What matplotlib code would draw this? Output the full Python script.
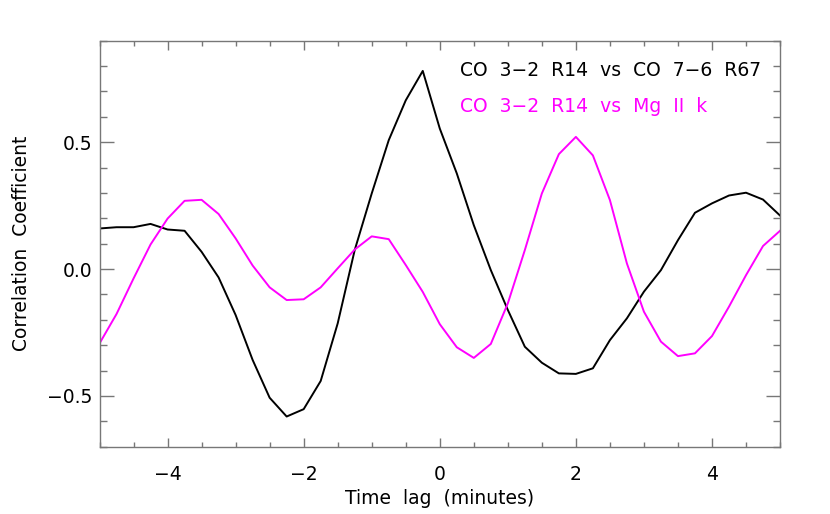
import matplotlib
matplotlib.use('Agg')
import matplotlib.pyplot as plt
import numpy as np
from matplotlib.ticker import MultipleLocator

plt.rcParams['font.family'] = 'DejaVu Sans'
plt.rcParams['font.size'] = 13.5

# 時間ラグ (0.25分刻み)
lag = np.arange(-5.0, 5.01, 0.25)

# CO 3-2 R14 vs CO 7-6 R67
co_co = [0.160, 0.165, 0.165, 0.178, 0.156, 0.151, 0.068, -0.033, -0.181, -0.358,
         -0.507, -0.581, -0.552, -0.441, -0.214, 0.075, 0.298, 0.508, 0.665, 0.781,
         0.554, 0.377, 0.173, -0.004, -0.161, -0.306, -0.369, -0.411, -0.413, -0.391,
         -0.280, -0.194, -0.089, -0.004, 0.114, 0.222, 0.259, 0.290, 0.301, 0.274,
         0.211]

# CO 3-2 R14 vs Mg II k
co_mg = [-0.293, -0.177, -0.037, 0.097, 0.199, 0.269, 0.273, 0.217, 0.121, 0.014,
         -0.072, -0.122, -0.119, -0.072, 0.003, 0.077, 0.129, 0.118, 0.016, -0.090,
         -0.217, -0.308, -0.350, -0.295, -0.135, 0.075, 0.298, 0.453, 0.521, 0.448,
         0.272, 0.022, -0.168, -0.286, -0.343, -0.332, -0.264, -0.148, -0.024, 0.091,
         0.151]

label_black = 'CO  3\u22122  R14  vs  CO  7\u22126  R67'
label_magenta = 'CO  3\u22122  R14  vs  Mg  II  k'

fig = plt.figure(figsize=(8.3, 5.14), dpi=100)
ax = fig.add_axes([0.1199, 0.1309, 0.8199, 0.7899])

ax.plot(lag, co_co, color='black', lw=1.4)
ax.plot(lag, co_mg, color='#ff00ff', lw=1.4)

ax.set_xlim(-5, 5)
ax.set_ylim(-0.7, 0.9)
ax.xaxis.set_major_locator(MultipleLocator(2))
ax.xaxis.set_minor_locator(MultipleLocator(0.5))
ax.yaxis.set_major_locator(MultipleLocator(0.5))
ax.yaxis.set_minor_locator(MultipleLocator(0.1))

fc = '#777777'
for s in ax.spines.values():
    s.set_color(fc)
    s.set_linewidth(1.0)
ax.tick_params(axis='x', which='major', direction='in', top=True, bottom=True,
               length=6.5, width=1, color=fc, pad=13)
ax.tick_params(axis='x', which='minor', direction='in', top=True, bottom=True,
               length=3.3, width=1, color=fc)
ax.tick_params(axis='y', which='major', direction='in', left=True, right=True,
               length=10, width=1, color=fc, pad=5)
ax.tick_params(axis='y', which='minor', direction='in', left=True, right=True,
               length=5, width=1, color=fc)

ax.xaxis.set_major_formatter(plt.FuncFormatter(lambda v, p: f'{v:.0f}'.replace('-', '\u2212')))
ax.yaxis.set_major_formatter(plt.FuncFormatter(lambda v, p: f'{v:.1f}'.replace('-', '\u2212')))

ax.set_xlabel('Time  lag  (minutes)', labelpad=4)
ax.set_ylabel('Correlation  Coefficient', labelpad=12)

ax.annotate(label_black, xy=(460 / 830, 1 - 70 / 514), xycoords='figure fraction',
            color='black', fontsize=13.5, va='center', ha='left')
ax.annotate(label_magenta, xy=(460 / 830, 1 - 107 / 514), xycoords='figure fraction',
            color='#ff00ff', fontsize=13.5, va='center', ha='left')

fig.savefig('out.png', dpi=100)
